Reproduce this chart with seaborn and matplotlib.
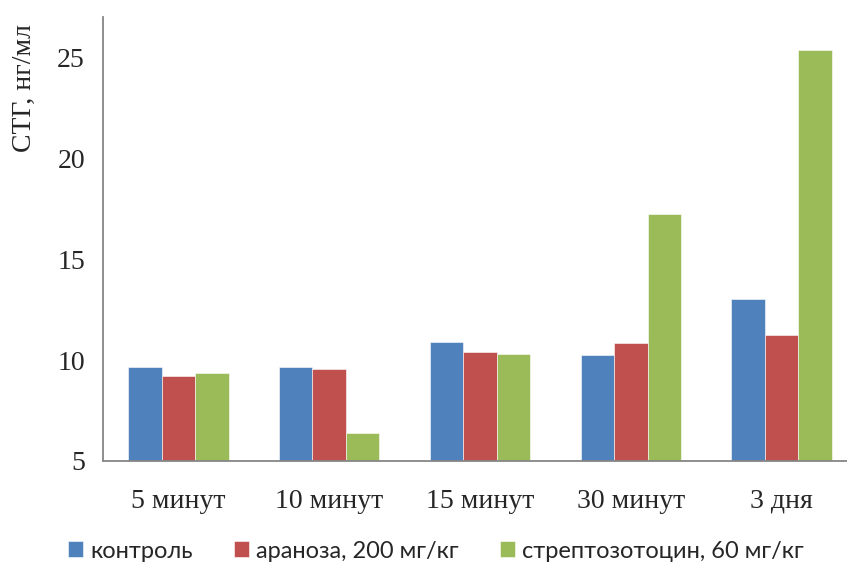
import matplotlib
matplotlib.use("Agg")
import matplotlib.pyplot as plt
import seaborn as sns
import pandas as pd

categories = ["5 минут", "10 минут", "15 минут", "30 минут", "3 дня"]
series_names = ["контроль", "араноза, 200 мг/кг", "стрептозотоцин, 60 мг/кг"]
control = [9.64, 9.67, 10.89, 10.23, 13.02]
aranoza = [9.21, 9.54, 10.40, 10.83, 11.22]
streptozotocin = [9.36, 6.39, 10.30, 17.26, 25.38]
y_ticks = [5, 10, 15, 20, 25]

colors = ["#4F81BD", "#C0504D", "#9BBB59"]

df = pd.DataFrame({
    "period": categories * 3,
    "group": [series_names[0]] * 5 + [series_names[1]] * 5 + [series_names[2]] * 5,
    "value": control + aranoza + streptozotocin,
})

sns.set_theme(style="white")
plt.rcParams["font.family"] = ["Liberation Serif", "DejaVu Serif"]

W, H = 847, 563
fig = plt.figure(figsize=(W / 100, H / 100), dpi=100)
left, right, top, bottom = 103, 857, 17, 461
ax = fig.add_axes([left / W, 1 - bottom / H, (right - left) / W, (bottom - top) / H])

sns.barplot(data=df, x="period", y="value", hue="group", order=categories,
            hue_order=series_names, palette=colors, width=0.665, gap=0,
            edgecolor="white", linewidth=0.4, saturation=1, ax=ax, legend=True)

ax.set_ylim(5, 27)
ax.set_xlim(-0.5, len(categories) - 0.5)
ax.set_yticks(y_ticks)
ax.set_yticklabels([str(t) for t in y_ticks], fontsize=20)

# category ticks sit on the boundaries between groups
ax.set_xticks([i - 0.5 for i in range(len(categories))], minor=False)
ax.set_xticklabels([""] * len(categories))
ax.set_xticks(range(len(categories)), minor=True)
ax.set_xticklabels(categories, minor=True, fontsize=20)
ax.tick_params(axis="x", which="minor", length=0, pad=20)
ax.tick_params(axis="x", which="major", length=8, width=1.3, color="#868686", direction="out")
ax.tick_params(axis="y", length=7, width=1.3, color="#868686", direction="out", pad=6)

for side in ["top", "right"]:
    ax.spines[side].set_visible(False)
for side in ["left", "bottom"]:
    ax.spines[side].set_color("#868686")
    ax.spines[side].set_linewidth(1.3)

ax.set_xlabel("")
ax.set_ylabel("")
fig.text(24 / W, 1 - 88 / H, "СТГ, нг/мл", rotation=90, fontsize=20,
         ha="center", va="center")

handles, labels = ax.get_legend_handles_labels()
ax.get_legend().remove()
fig.legend(handles, labels, loc="center", bbox_to_anchor=(436 / W, 1 - 551 / H),
           ncol=3, frameon=False, handlelength=0.63, handleheight=0.63,
           handletextpad=0.3, columnspacing=1.75,
           prop={"family": "Lato", "size": 17})

fig.savefig("out.png", dpi=100)
